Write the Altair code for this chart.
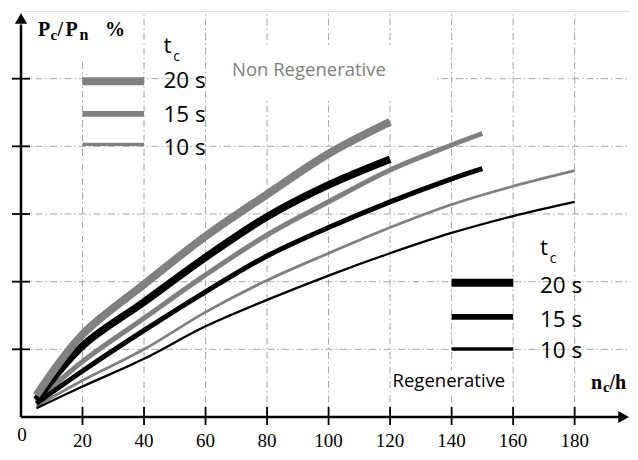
import altair as alt
import pandas as pd

# ---- data ----
x_20 = [5, 20, 40, 60, 80, 100, 120]
nr20 = [3.2, 12.2, 19.6, 26.7, 32.9, 38.9, 43.6]
r20 = [2.5, 10.5, 17.0, 23.6, 29.6, 34.3, 38.1]
x_15 = [5, 20, 40, 60, 80, 100, 120, 140, 150]
nr15 = [2.3, 8.2, 14.6, 21.0, 26.9, 31.8, 36.5, 40.2, 41.9]
r15 = [2.0, 6.8, 12.8, 18.5, 23.8, 28.0, 31.8, 35.2, 36.7]
x_10 = [5, 20, 40, 60, 80, 100, 120, 140, 160, 180]
nr10 = [1.6, 5.4, 10.0, 15.5, 20.2, 24.2, 28.0, 31.4, 34.1, 36.4]
r10 = [1.3, 4.5, 8.6, 13.4, 17.3, 20.9, 24.2, 27.2, 29.7, 31.8]

x_ticks = [20, 40, 60, 80, 100, 120, 140, 160, 180]
y_ticks = [10, 20, 30, 40, 50]
legend_labels = ["20 s", "15 s", "10 s"]

GRAY = "#808080"
GRID = "#a6a6a6"
SANS = "Open Sans"
SERIF = "Liberation Serif"
W, H = 609, 406
XMAX, YMAX = 198, 60
XS = alt.Scale(domain=[0, XMAX])
YS = alt.Scale(domain=[0, YMAX])


def X(f="x"):
    return alt.X(f"{f}:Q", scale=XS, axis=None)


def Y(f="y"):
    return alt.Y(f"{f}:Q", scale=YS, axis=None)


def series(xs, ys, color, width):
    df = pd.DataFrame({"x": xs, "y": ys})
    return alt.Chart(df).mark_line(color=color, strokeWidth=width, interpolate="catmull-rom",
                                   strokeCap="butt").encode(x=X(), y=Y())


def txt(label, x, y, size, font=SANS, color="black", weight="normal", align="left"):
    df = pd.DataFrame({"t": [label], "x": [x], "y": [y]})
    return alt.Chart(df).mark_text(font=font, fontSize=size, color=color, fontWeight=weight,
                                   align=align, baseline="alphabetic").encode(x=X(), y=Y(), text="t:N")


def ptxt(label, px, py, size, font=SERIF, weight="bold", align="left"):
    # px, py are positions inside the plot area, converted to data units
    return txt(label, px / W * XMAX, (1 - py / H) * YMAX, size, font=font, weight=weight, align=align)


def seg(x1, x2, y1, y2, color, width, dashp=None):
    df = pd.DataFrame({"x": x1, "x2": x2, "y": y1, "y2": y2})
    kw = dict(color=color, strokeWidth=width)
    if dashp:
        kw["strokeDash"] = dashp
    return alt.Chart(df).mark_rule(**kw).encode(x=X(), x2="x2:Q", y=Y(), y2="y2:Q")


def box(x1, x2, y1, y2):
    df = pd.DataFrame({"x": [x1], "x2": [x2], "y": [y1], "y2": [y2]})
    return alt.Chart(df).mark_rect(color="white").encode(x=X(), x2="x2:Q", y=Y(), y2="y2:Q")


dash = [7, 3, 1.5, 3]
n = len(x_ticks)
vgrid = seg(x_ticks, x_ticks, [0] * n, [59.7] * n, GRID, 1, dash)
m = len(y_ticks)
hgrid = seg([0] * m, [XMAX] * m, y_ticks, y_ticks, GRID, 1, dash)

boxes = [box(61, 134.5, 47.1, 54.7), box(2, 38.5, 52.5, 59.8), box(121, 158.2, 3.2, 6.9)]

# axes
xaxis = seg([0], [195], [0], [0], "black", 2.5)
yaxis = seg([0], [0], [0], [58], "black", 2.5)
xarrow = alt.Chart(pd.DataFrame({"x": [195.9], "y": [0]})).mark_point(
    shape="triangle-right", size=150, filled=True, color="black", opacity=1).encode(x=X(), y=Y())
yarrow = alt.Chart(pd.DataFrame({"x": [0], "y": [58.9]})).mark_point(
    shape="triangle-up", size=150, filled=True, color="black", opacity=1).encode(x=X(), y=Y())
xtick_marks = alt.Chart(pd.DataFrame({"x": x_ticks})).mark_rule(color="black", strokeWidth=1.8).encode(
    x=X(), y=alt.value(H - 10), y2=alt.value(H + 8))
ytick_marks = alt.Chart(pd.DataFrame({"y": y_ticks})).mark_rule(color="black", strokeWidth=1.8).encode(
    y=Y(), x=alt.value(-9), x2=alt.value(9))
xtick_labels = alt.Chart(pd.DataFrame({"x": x_ticks, "t": [str(v) for v in x_ticks]})).mark_text(
    font=SERIF, fontSize=19, color="black", baseline="alphabetic").encode(
    x=X(), y=alt.value(H + 30), text="t:N")
zero_label = ptxt("0", 1, H + 24, 19, weight="normal", align="center")

# curves
curves = [
    series(x_10, nr10, GRAY, 2.8),
    series(x_10, r10, "black", 2.3),
    series(x_15, nr15, GRAY, 5),
    series(x_15, r15, "black", 5),
    series(x_20, r20, "black", 7.5),
    series(x_20, nr20, GRAY, 8),
]

# legends
leg_widths = [8, 5.7, 3.3]
left_y = [49.6, 44.8, 40.3]
right_y = [19.85, 14.8, 10.05]
leg = []
for lab, w, ly, ry, lt, rt in zip(legend_labels, leg_widths, left_y, right_y,
                                   [48.6, 43.6, 38.7], [18.3, 13.3, 8.7]):
    leg.append(seg([20], [40], [ly], [ly], GRAY, w))
    leg.append(seg([140], [160], [ry], [ry], "black", w))
    leg.append(txt(lab, 46.3, lt, 22.5))
    leg.append(txt(lab, 168.7, rt, 22.5))

tc = [
    txt("t", 46.3, 53.8, 22.5), txt("c", 49.5, 52.6, 14),
    txt("t", 168.7, 23.9, 22.5), txt("c", 171.9, 22.7, 14),
]

labels = [
    txt("Non Regenerative", 68.6, 50.4, 18.5, color=GRAY),
    txt("Regenerative", 120.8, 4.4, 18.5),
]

# axis titles P_c/P_n %  and  n_c/h
title = [
    ptxt("P", 17, 25, 20),
    ptxt("c", 29.5, 29, 15),
    ptxt("/", 36.5, 25, 20),
    ptxt("P", 44.5, 25, 20),
    ptxt("n", 58.5, 29, 16),
    ptxt("%", 84, 25, 20),
    ptxt("n", 570, 378, 20),
    ptxt("c", 582, 381, 15),
    ptxt("/h", 588.5, 378, 20),
]

chart = alt.layer(
    vgrid, hgrid, *boxes, *curves, *leg, *tc, *labels,
    xaxis, yaxis, xarrow, yarrow, xtick_marks, ytick_marks, xtick_labels, zero_label, *title
).properties(
    width=W, height=H,
    autosize=alt.AutoSizeParams(type="none"),
    padding={"left": 13, "top": 3, "right": 0, "bottom": 35},
).configure_view(stroke=None).configure(background="white")

chart.save("out.html", embed_options={"renderer": "svg", "actions": False})
